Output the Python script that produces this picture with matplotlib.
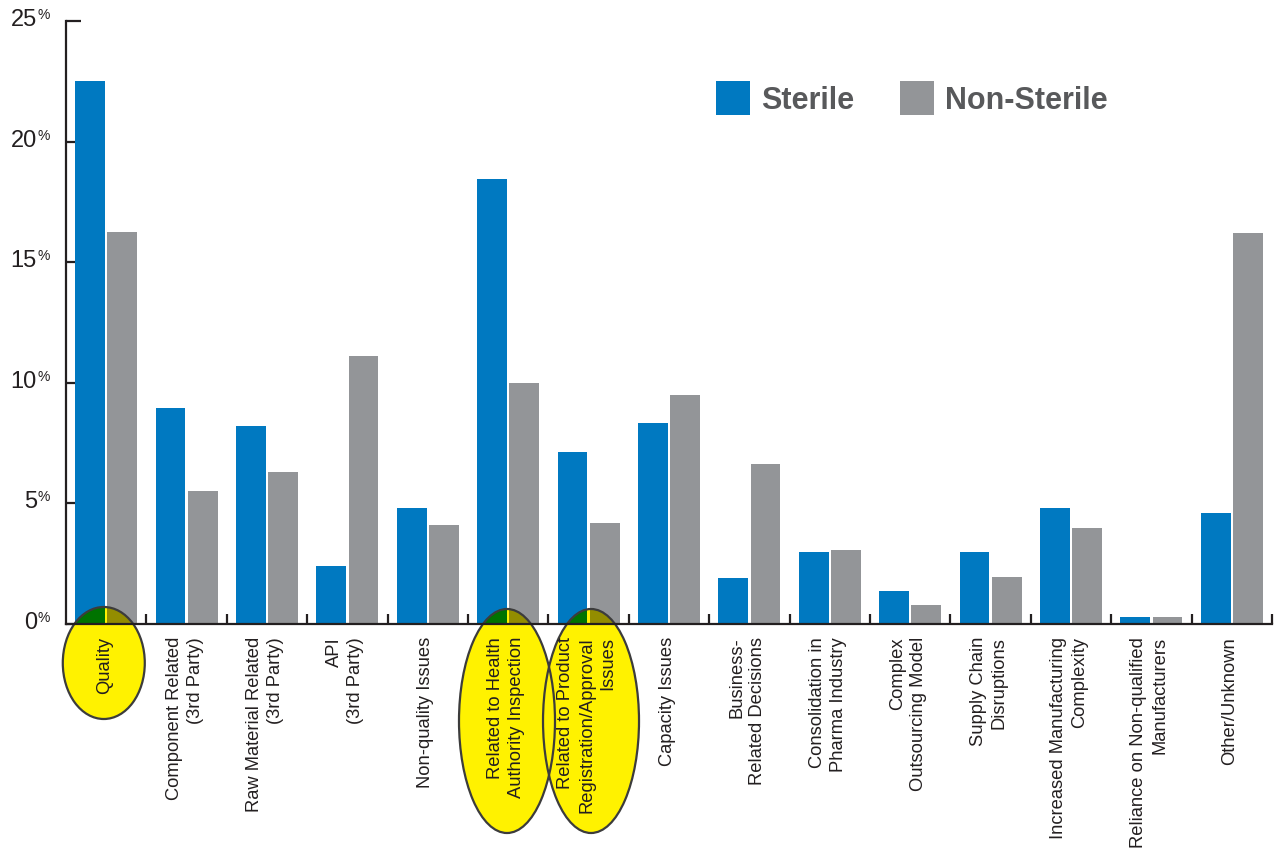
import matplotlib
matplotlib.use('Agg')
import matplotlib.pyplot as plt
from matplotlib.patches import Ellipse, Rectangle
from matplotlib.colors import to_rgb
import numpy as np

plt.rcParams['font.family'] = ['Liberation Sans', 'DejaVu Sans']

categories = ['Quality',
              'Component Related\n(3rd Party)',
              'Raw Material Related\n(3rd Party)',
              'API\n(3rd Party)',
              'Non-quality Issues',
              'Related to Health\nAuthority Inspection',
              'Related to Product\nRegistration/Approval\nIssues',
              'Capacity Issues',
              'Business-\nRelated Decisions',
              'Consolidation in\nPharma Industry',
              'Complex\nOutsourcing Model',
              'Supply Chain\nDisruptions',
              'Increased Manufacturing\nComplexity',
              'Reliance on Non-qualified\nManufacturers',
              'Other/Unknown']
sterile = [22.5, 8.95, 8.2, 2.4, 4.8, 18.45, 7.15, 8.35, 1.9, 3.0, 1.35, 3.0, 4.8, 0.3, 4.6]
non_sterile = [16.25, 5.5, 6.3, 11.1, 4.1, 10.0, 4.2, 9.5, 6.65, 3.05, 0.8, 1.95, 4.0, 0.3, 16.2]
yticks = [0, 5, 10, 15, 20, 25]
highlighted = [0, 5, 6]

BLUE = '#0079C1'
GRAY = '#939598'
YELLOW = '#FFF200'
INK = '#231F20'


def multiply(c1, c2):
    a = np.array(to_rgb(c1))
    b = np.array(to_rgb(c2))
    return tuple(a * b)


fig = plt.figure(figsize=(12.75, 8.48), dpi=100)
ax = fig.add_axes([66 / 1275, 224 / 848, 1206 / 1275, 603 / 848])

x = np.arange(len(categories))
w = 0.37
bars_s = ax.bar(x + 0.30, sterile, w, color=BLUE, zorder=2)
bars_n = ax.bar(x + 0.70, non_sterile, w, color=GRAY, zorder=2)

ax.set_xlim(0, len(categories))
ax.set_ylim(0, 25)

for s in ['top', 'right']:
    ax.spines[s].set_visible(False)
for s in ['left', 'bottom']:
    ax.spines[s].set_linewidth(1.6)
    ax.spines[s].set_color(INK)
    ax.spines[s].set_zorder(6)

ax.set_yticks(yticks)
ax.set_yticklabels([])
ax.tick_params(axis='y', direction='in', length=7, width=1.6, color=INK)
ax.set_xticks(np.arange(1, len(categories) + 1))
ax.set_xticklabels([])
ax.tick_params(axis='x', direction='in', length=7, width=1.6, color=INK)
ax.yaxis.get_major_ticks()[-1].tick1line.set_markersize(11)

for v in yticks:
    ax.annotate(str(v), xy=(0, v), xycoords=('axes fraction', 'data'),
                xytext=(-29, 1), textcoords='offset pixels',
                ha='right', va='center', fontsize=17, color=INK)
    ax.annotate('%', xy=(0, v), xycoords=('axes fraction', 'data'),
                xytext=(-28, 6), textcoords='offset pixels',
                ha='left', va='center', fontsize=10, color=INK)

# yellow highlight ellipses (pixel sizes converted to data units)
px_x = 1 / 80.4
px_y = 25 / 603.
ell_specs = {0: (0.47, -39 * px_y, 82 * px_x, 112 * px_y),
             5: (5.485, -97 * px_y, 96 * px_x, 224 * px_y),
             6: (6.53, -97 * px_y, 96 * px_x, 224 * px_y)}
for i in highlighted:
    cx, cy, ew, eh = ell_specs[i]
    e = Ellipse((cx, cy), ew, eh, facecolor=YELLOW, edgecolor='none',
                zorder=3, clip_on=False)
    ax.add_patch(e)
    # bar parts inside the ellipse look multiplied with the yellow
    for bars, col in ((bars_s, BLUE), (bars_n, GRAY)):
        b = bars[i]
        r = Rectangle((b.get_x(), 0), b.get_width(), b.get_height(),
                      facecolor=multiply(col, YELLOW), edgecolor='none',
                      zorder=3.5)
        ax.add_patch(r)
        r.set_clip_path(e)
for i in highlighted:
    cx, cy, ew, eh = ell_specs[i]
    ax.add_patch(Ellipse((cx, cy), ew, eh, facecolor='none', edgecolor='#3C3C3C',
                         linewidth=1.6, zorder=4, clip_on=False))

for i, lab in enumerate(categories):
    ax.annotate(lab, xy=(i + 0.5, 0), xycoords='data',
                xytext=(-2, -13), textcoords='offset pixels',
                rotation=90, ha='center', va='top', multialignment='right',
                fontsize=13.2, color=INK, zorder=7, annotation_clip=False,
                linespacing=1.3)

leg = ax.legend([bars_s, bars_n], ['Sterile', 'Non-Sterile'], ncol=2,
                loc='upper left', bbox_to_anchor=(0.539, 0.900), frameon=False,
                handlelength=1.11, handleheight=1.34, handletextpad=0.36,
                columnspacing=1.5, borderpad=0, borderaxespad=0,
                prop={'weight': 'bold', 'size': 22}, labelcolor='#58595B')

fig.savefig('out.png', dpi=100)
